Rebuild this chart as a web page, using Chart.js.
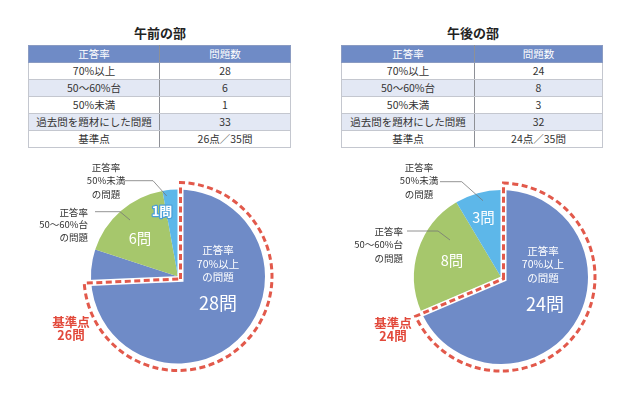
<!DOCTYPE html>
<html lang="ja">
<head>
<meta charset="utf-8">
<script src="https://cdn.jsdelivr.net/npm/chart.js@4.4.1/dist/chart.umd.min.js"></script>
<style>
  body { margin: 0; width: 640px; height: 401px; background: #fff; position: relative; overflow: hidden;
         font-family: "Noto Sans CJK JP", sans-serif; color: #333; }
  .title { position: absolute; top: 24px; width: 200px; font-size: 13px; font-weight: bold; text-align: center; color: #222; line-height: 18px; }
  table { position: absolute; top: 45px; border-collapse: collapse; font-size: 10.5px; table-layout: fixed; }
  td, th { border: 1px solid #c4c7cf; height: 16px; padding: 0; text-align: center; line-height: 16px; font-weight: normal; }
  th { background: #6f8bc6; color: #fff; border-color: #8a9bc2; }
  tbody tr:nth-child(even) td { background: #e3e8f4; }
  td:first-child, th:first-child { border-right: 1px solid #8e9096; }
  canvas { position: absolute; top: 160px; }
</style>
</head>
<body>
<div class="title" style="left:60px">午前の部</div>
<div class="title" style="left:373px">午後の部</div>
<table id="amTable" style="left:28px;width:263px"><colgroup><col style="width:131px"><col></colgroup></table>
<table id="pmTable" style="left:341px;width:262px"><colgroup><col style="width:133px"><col></colgroup></table>
<canvas id="amChart" width="320" height="240" style="left:0"></canvas>
<canvas id="pmChart" width="320" height="240" style="left:320px"></canvas>
<script>
const headers = ['正答率', '問題数'];
const categories = ['70%以上', '50〜60%台', '50%未満'];
const extraRows = ['過去問を題材にした問題', '基準点'];
const totalQuestions = 35;

const amCounts = [28, 6, 1];
const amPast = 33;
const amBase = 26;

const pmCounts = [24, 8, 3];
const pmPast = 32;
const pmBase = 24;

const sliceColors = ['#6f8bc7', '#a6c76c', '#5db7e9'];

function fillTable(id, counts, past, base) {
  const t = document.getElementById(id);
  let html = '<thead><tr><th>' + headers[0] + '</th><th>' + headers[1] + '</th></tr></thead><tbody>';
  categories.forEach((c, i) => { html += '<tr><td>' + c + '</td><td>' + counts[i] + '</td></tr>'; });
  html += '<tr><td>' + extraRows[0] + '</td><td>' + past + '</td></tr>';
  html += '<tr><td>' + extraRows[1] + '</td><td>' + base + '点／' + totalQuestions + '問</td></tr></tbody>';
  t.insertAdjacentHTML('beforeend', html);
}
fillTable('amTable', amCounts, amPast, amBase);
fillTable('pmTable', pmCounts, pmPast, pmBase);

const FONT = '"Noto Sans CJK JP", sans-serif';

// dashed outline around the base-score portion, plus the labels
const pieDecor = {
  id: 'pieDecor',
  afterDatasetsDraw(chart, args, opts) {
    const ctx = chart.ctx;
    const arc = chart.getDatasetMeta(0).data[0];
    const cx = arc.x, cy = arc.y, r = arc.outerRadius;
    const data = chart.data.datasets[0].data;
    const total = data.reduce((a, b) => a + b, 0);
    const a0 = arc.startAngle;
    const a1 = a0 + Math.PI * 2 * opts.base / total;

    const d = 2.5, ro = r + 7;
    const n0 = [-Math.sin(a0), Math.cos(a0)];
    const n1 = [Math.sin(a1), -Math.cos(a1)];
    const det = n0[0] * n1[1] - n0[1] * n1[0];
    const px = cx + d * (n1[1] - n0[1]) / det;
    const py = cy + d * (n0[0] - n1[0]) / det;
    const dl = Math.asin(d / ro);

    const path = () => {
      ctx.beginPath();
      ctx.moveTo(px, py);
      ctx.lineTo(cx + ro * Math.cos(a0 + dl), cy + ro * Math.sin(a0 + dl));
      ctx.arc(cx, cy, ro, a0 + dl, a1 - dl);
      ctx.closePath();
    };
    ctx.save();
    ctx.lineJoin = 'miter';
    path();
    ctx.strokeStyle = '#fff';
    ctx.lineWidth = 6;
    ctx.stroke();
    path();
    ctx.setLineDash([6, 3.5]);
    ctx.strokeStyle = '#e2594b';
    ctx.lineWidth = 3;
    ctx.stroke();
    ctx.setLineDash([]);

    // leader lines
    ctx.strokeStyle = '#777';
    ctx.lineWidth = 0.8;
    opts.leaders.forEach(pts => {
      ctx.beginPath();
      pts.forEach((p, i) => i ? ctx.lineTo(cx + p[0], cy + p[1]) : ctx.moveTo(cx + p[0], cy + p[1]));
      ctx.stroke();
    });

    // texts
    ctx.textBaseline = 'middle';
    opts.texts.forEach(t => {
      ctx.font = t.font;
      ctx.textAlign = t.align || 'center';
      t.lines.forEach((line, i) => {
        const x = cx + t.x, y = cy + t.y + i * (t.lh || 13.5);
        if (t.stroke) {
          ctx.strokeStyle = t.stroke;
          ctx.lineWidth = 2.5;
          ctx.lineJoin = 'round';
          ctx.strokeText(line, x, y);
        }
        ctx.fillStyle = t.color;
        ctx.fillText(line, x, y);
      });
    });
    ctx.restore();
  }
};

function makePie(id, counts, base, padding, texts, leaders) {
  new Chart(document.getElementById(id), {
    type: 'pie',
    data: {
      labels: categories,
      datasets: [{
        data: counts,
        backgroundColor: sliceColors,
        borderWidth: 0
      }]
    },
    options: {
      responsive: false,
      animation: false,
      events: [],
      layout: { padding: padding },
      plugins: {
        legend: { display: false },
        tooltip: { enabled: false },
        pieDecor: { base: base, texts: texts, leaders: leaders }
      }
    },
    plugins: [pieDecor]
  });
}

const small = '9.5px ' + FONT;
const inner = '10.5px ' + FONT;
const big = '18px ' + FONT;

makePie('amChart', amCounts, amBase,
  { left: 91, right: 55, top: 29.5, bottom: 36.5 },
  [
    { x: 40, y: -26, lines: ['正答率', '70%以上', 'の問題'], font: inner, color: '#fff' },
    { x: 40, y: 26.5, lines: [amCounts[0] + '問'], font: big, color: '#fff' },
    { x: -38, y: -38.5, lines: [amCounts[1] + '問'], font: '14.5px ' + FONT, color: '#fff' },
    { x: -16, y: -65, lines: [amCounts[2] + '問'], font: 'bold 13px ' + FONT, color: '#fff', stroke: '#4a9fd8' },
    { x: -72, y: -109.5, lines: ['正答率', '50%未満', 'の問題'], font: small, color: '#333' },
    { x: -90, y: -64, lines: ['正答率', '50〜60%台', 'の問題'], font: small, color: '#333', align: 'right', lh: 12.2 },
    { x: -107, y: 45.5, lines: ['基準点', amBase + '問'], font: 'bold 12.5px ' + FONT, color: '#e2493b' }
  ],
  [
    [[-53, -95.8], [-25, -95.8], [-11.3, -80.5]],
    [[-83, -64.8], [-58, -64.8], [-48, -56.5]]
  ]);

makePie('pmChart', pmCounts, pmBase,
  { left: 94, right: 52, top: 30, bottom: 36 },
  [
    { x: 42, y: -26, lines: ['正答率', '70%以上', 'の問題'], font: inner, color: '#fff' },
    { x: 44, y: 27, lines: [pmCounts[0] + '問'], font: big, color: '#fff' },
    { x: -49, y: -17, lines: [pmCounts[1] + '問'], font: '14.5px ' + FONT, color: '#fff' },
    { x: -17.5, y: -60, lines: [pmCounts[2] + '問'], font: '14.5px ' + FONT, color: '#fff' },
    { x: -82, y: -110, lines: ['正答率', '50%未満', 'の問題'], font: small, color: '#333' },
    { x: -98, y: -46, lines: ['正答率', '50〜60%台', 'の問題'], font: small, color: '#333', align: 'right', lh: 13.5 },
    { x: -108, y: 46, lines: ['基準点', pmBase + '問'], font: 'bold 12.5px ' + FONT, color: '#e2493b' }
  ],
  [
    [[-61, -95.3], [-39.3, -95.3], [-18, -76.3]],
    [[-94, -46], [-63, -46], [-51, -37]]
  ]);
</script>
</body>
</html>
